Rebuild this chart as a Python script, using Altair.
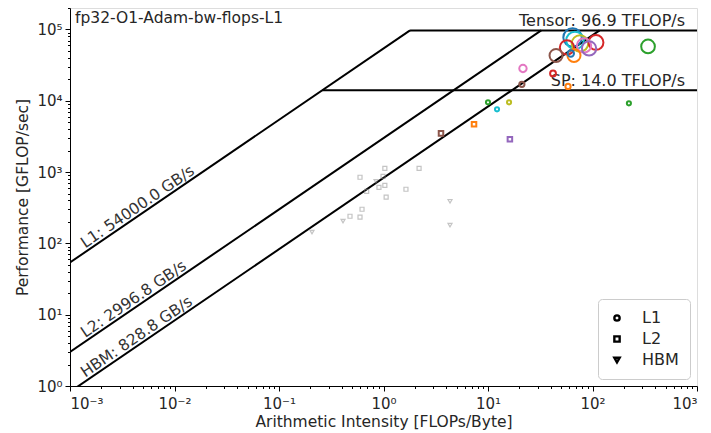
import math
import altair as alt
import pandas as pd

# ---------------- data ----------------
X_MIN, X_MAX = 1e-3, 1e3
Y_MIN, Y_MAX = 1.0, 2e5

peak_names = ["Tensor", "SP"]
peak_tflops = [96.9, 14.0]
bw_names = ["L1", "L2", "HBM"]
bw_gbs = [54000.0, 2996.8, 828.8]

# L1-level kernels (circles)
l1_color = ["blue", "cyan", "olive", "red", "red", "pink", "purple", "brown", "orange", "blue",
            "green", "pink", "red", "brown", "orange", "green", "cyan", "olive", "green"]
l1_ai = [64.4, 68.0, 75.9, 57.0, 108.0, 83.0, 92.7, 44.8, 66.5, 62.0,
         340.0, 21.6, 41.9, 21.1, 58.3, 10.0, 12.2, 15.9, 223.0]
l1_perf = [77300, 70200, 63700, 56000, 65800, 59700, 54200, 43200, 43200, 46100,
           57800, 28400, 24200, 17000, 15900, 9500, 7580, 9500, 9200]
l1_weight = [1.0, 0.9, 0.8, 0.6, 0.65, 0.6, 0.6, 0.5, 0.5, 0.12,
             0.55, 0.16, 0.1, 0.08, 0.08, 0.05, 0.05, 0.05, 0.05]

# L2-level coloured kernels (squares)
l2_color = ["orange", "brown", "purple"]
l2_ai = [7.35, 3.55, 16.2]
l2_perf = [4670, 3490, 2880]
l2_weight = [0.06, 0.06, 0.06]

# faint minor kernels
minor_level = ["L2", "L2", "L2", "L2", "HBM", "L2", "L2", "L2", "L2", "HBM",
               "L2", "L2", "L2", "HBM", "HBM", "HBM", "L2"]
minor_ai = [1.03, 2.19, 0.596, 0.99, 0.848, 1.03, 0.905, 1.64, 1.06, 4.33,
            0.623, 0.478, 0.596, 0.41, 4.33, 0.207, 0.69]
minor_perf = [1130, 1130, 846, 873, 743, 653, 612, 574, 444, 390,
              301, 240, 233, 205, 180, 144, 538]

tab_names = ["blue", "orange", "green", "red", "purple", "brown", "pink", "gray", "olive", "cyan"]
tab_hex = ["#1f77b4", "#ff7f0e", "#2ca02c", "#d62728", "#9467bd",
           "#8c564b", "#e377c2", "#7f7f7f", "#bcbd22", "#17becf"]

levels = ["L1", "L2", "HBM"]
level_shapes = ["circle", "square", "triangle-down"]

# ---------------- tables ----------------
W, H = 627, 378
FONT = "DejaVu Sans"
TXT = "#262626"

peaks_gf = [t * 1000 for t in peak_tflops]
l1_bw = bw_gbs[0]
segs = []
for n, bw in zip(bw_names, bw_gbs):
    segs.append(dict(x=X_MIN, y=bw * X_MIN, x2=max(peaks_gf) / bw, y2=max(peaks_gf)))
for n, p in zip(peak_names, peaks_gf):
    segs.append(dict(x=p / l1_bw, y=p, x2=X_MAX, y2=p))
seg_df = pd.DataFrame(segs)

peak_df = pd.DataFrame(dict(
    x=[X_MAX] * len(peak_names), y=peaks_gf,
    label=[f"{n}: {t:.1f} TFLOP/s" for n, t in zip(peak_names, peak_tflops)]))

lab_x = 0.00145
bw_df = pd.DataFrame(dict(
    x=[lab_x] * len(bw_names), y=[b * lab_x for b in bw_gbs],
    label=[f"{n}: {b:.1f} GB/s" for n, b in zip(bw_names, bw_gbs)]))

kern_df = pd.DataFrame(dict(
    ai=l1_ai + l2_ai, perf=l1_perf + l2_perf,
    level=["L1"] * len(l1_ai) + ["L2"] * len(l2_ai),
    kernel=l1_color + l2_color, weight=l1_weight + l2_weight))

minor_df = pd.DataFrame(dict(ai=minor_ai, perf=minor_perf, level=minor_level))

name_df = pd.DataFrame(dict(x=[X_MIN], y=[Y_MAX], label=["fp32-O1-Adam-bw-flops-L1"]))

# ---------------- axes ----------------
sup = {"-": "⁻", "0": "⁰", "1": "¹", "2": "²", "3": "³", "4": "⁴", "5": "⁵",
       "6": "⁶", "7": "⁷", "8": "⁸", "9": "⁹"}


def log_ticks(lo, hi):
    vals = []
    for e in range(int(math.floor(math.log10(lo))), int(math.ceil(math.log10(hi))) + 1):
        for m in range(1, 10):
            v = m * 10 ** e
            if lo * 0.999 <= v <= hi * 1.001:
                vals.append(v)
    return vals


def label_expr(lo, hi):
    parts = []
    for e in range(int(round(math.log10(lo))), int(math.floor(math.log10(hi))) + 1):
        s = "10" + "".join(sup[c] for c in str(e))
        parts.append(f"abs(log(datum.value)/LN10 - ({e})) < 1e-6 ? '{s}'")
    return " : ".join(parts) + " : ''"


is_major = "abs(log(datum.value)/LN10 - round(log(datum.value)/LN10)) < 1e-6"


def make_axis(lo, hi, title, **kw):
    return alt.Axis(values=log_ticks(lo, hi), labelExpr=label_expr(lo, hi), title=title,
                    grid=False, labelOverlap=False, labelFont=FONT, labelFontSize=15,
                    labelColor=TXT, titleFont=FONT, titleFontSize=15.5, titleFontWeight="normal",
                    titleColor=TXT, domainColor="black", tickColor="black",
                    tickSize={"condition": {"test": is_major, "value": 5}, "value": 2.5},
                    **kw)


xscale = alt.Scale(type="log", domain=[X_MIN, X_MAX], nice=False)
yscale = alt.Scale(type="log", domain=[Y_MIN, Y_MAX], nice=False)

X = alt.X("x:Q", scale=xscale, axis=make_axis(X_MIN, X_MAX, "Arithmetic Intensity [FLOPs/Byte]",
                                               labelPadding=5, titlePadding=3))
Y = alt.Y("y:Q", scale=yscale, axis=make_axis(Y_MIN, Y_MAX, "Performance [GFLOP/sec]",
                                               labelPadding=3, titlePadding=6))

# ---------------- layers ----------------
roof = alt.Chart(seg_df).mark_rule(color="black", strokeWidth=2, clip=True).encode(
    x=X, y=Y, x2="x2:Q", y2="y2:Q")

peak_txt = alt.Chart(peak_df).mark_text(
    align="right", baseline="alphabetic", dx=-12, dy=-4, font=FONT, fontSize=16, color=TXT
).encode(x=alt.X("x:Q", scale=xscale), y=alt.Y("y:Q", scale=yscale), text="label:N")

slope_deg = math.degrees(math.atan((H / math.log10(Y_MAX / Y_MIN)) / (W / math.log10(X_MAX / X_MIN))))
bw_txt = alt.Chart(bw_df).mark_text(
    align="left", baseline="alphabetic", angle=360 - slope_deg, dy=-3, font=FONT, fontSize=15.5,
    color="#333333"
).encode(x=alt.X("x:Q", scale=xscale), y=alt.Y("y:Q", scale=yscale), text="label:N")

name_txt = alt.Chart(name_df).mark_text(
    align="left", baseline="top", dx=5, dy=3, font=FONT, fontSize=15.5, color=TXT
).encode(x=alt.X("x:Q", scale=xscale), y=alt.Y("y:Q", scale=yscale), text="label:N")

shape_enc = alt.Shape("level:N", scale=alt.Scale(domain=levels, range=level_shapes),
                      legend=alt.Legend(title=None, orient="bottom-right", offset=7,
                                        strokeColor="#cccccc", fillColor="white", cornerRadius=4,
                                        padding=11, labelFont=FONT, labelFontSize=16,
                                        labelColor=TXT, symbolSize=28, symbolStrokeWidth=2.4,
                                        symbolStrokeColor="black", symbolFillColor="white",
                                        symbolOpacity=1, rowPadding=5, labelOffset=17))

minor_pts = alt.Chart(minor_df).mark_point(filled=False, strokeWidth=1.2, opacity=0.5,
                                           color="#8a8a8a", size=16).encode(
    x=alt.X("ai:Q", scale=xscale), y=alt.Y("perf:Q", scale=yscale), shape=shape_enc)

kern_pts = alt.Chart(kern_df).mark_point(filled=False, strokeWidth=2, opacity=1).encode(
    x=alt.X("ai:Q", scale=xscale), y=alt.Y("perf:Q", scale=yscale), shape=shape_enc,
    color=alt.Color("kernel:N", scale=alt.Scale(domain=tab_names, range=tab_hex), legend=None),
    size=alt.Size("weight:Q", scale=alt.Scale(domain=[0, 1], range=[0, 340]), legend=None))

chart = alt.layer(roof, peak_txt, bw_txt, name_txt, minor_pts, kern_pts).properties(
    width=W, height=H,
    autosize=alt.AutoSizeParams(type="none"),
    padding={"left": 62, "top": 0, "right": 6, "bottom": 45},
).configure_view(stroke="black", strokeWidth=1).configure(background="white")

chart.save("out.html", embed_options={"renderer": "svg", "actions": False})
